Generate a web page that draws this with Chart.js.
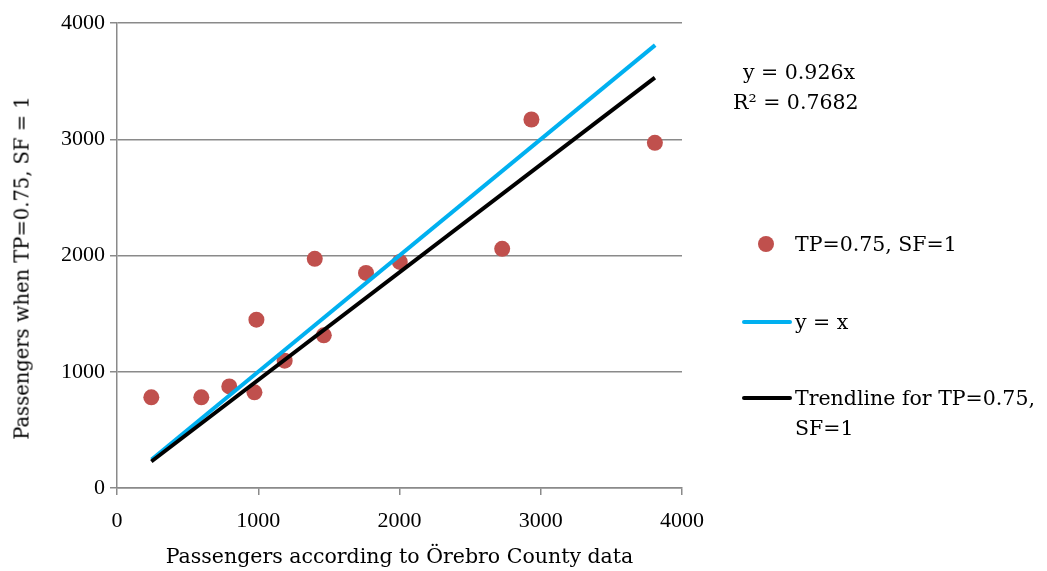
<!DOCTYPE html>
<html>
<head>
<meta charset="utf-8">
<script src="https://cdn.jsdelivr.net/npm/chart.js@4/dist/chart.umd.min.js"></script>
<style>
	body { margin: 0; background: #fff; }
	#wrap { position: relative; width: 1047px; height: 571px; font-family: "DejaVu Serif", serif; color: #000; }
	.txt { position: absolute; font-size: 20.5px; white-space: nowrap; line-height: 30px; }
	.mark { position: absolute; }
	#ytitle { position: absolute; left: 22px; top: 268px; font-size: 19.5px; white-space: nowrap;
		transform: translate(-50%, -50%) rotate(-90deg); }
</style>
</head>
<body>
<div id="wrap">
	<canvas id="chart" width="1047" height="571"></canvas>
	<div id="ytitle">Passengers when TP=0.75, SF = 1</div>

	<div class="txt" style="left:743px; top:57px;">y = 0.926x</div>
	<div class="txt" style="left:733px; top:87px;">R² = 0.7682</div>

	<div class="mark" style="left:758px; top:236px; width:16px; height:16px; border-radius:50%; background:#C0504D;"></div>
	<div class="txt" style="left:795px; top:229px;">TP=0.75, SF=1</div>

	<div class="mark" style="left:742px; top:320px; width:50px; height:4px; border-radius:2px; background:#00B0F0;"></div>
	<div class="txt" style="left:795px; top:307px;">y = x</div>

	<div class="mark" style="left:742px; top:396px; width:50px; height:4px; border-radius:2px; background:#000;"></div>
	<div class="txt" style="left:795px; top:383px;">Trendline for TP=0.75,</div>
	<div class="txt" style="left:795px; top:413px;">SF=1</div>
</div>
<script>
// Values
const countyData = [243, 597, 795, 973, 987, 1187, 1400, 1464, 1763, 2002, 2727, 2934, 3808];
const modelData = [780, 780, 874, 823, 1448, 1095, 1971, 1313, 1850, 1945, 2057, 3170, 2969];

const identityX = [245, 3810];
const identityY = [245, 3810];

const trendX = [243, 3808];
const trendY = [228, 3530];

const axisTicks = [0, 1000, 2000, 3000, 4000];

const gridGray = "#8a8a8a";
const tickFont = { family: "Liberation Serif", size: 22 };
const titleFont = { family: "DejaVu Serif", size: 20.5 };

function toPoints(xs, ys) {
	return xs.map((x, i) => ({ x: x, y: ys[i] }));
}

let ctx = document.getElementById("chart").getContext("2d");

let chart = new Chart(ctx, {
	type: "scatter",
	data: {
		datasets: [
			{
				label: "Trendline for TP=0.75, SF=1",
				data: toPoints(trendX, trendY),
				showLine: true,
				borderColor: "#000000",
				borderWidth: 4,
				pointRadius: 0,
				order: 0
			},
			{
				label: "y = x",
				data: toPoints(identityX, identityY),
				showLine: true,
				borderColor: "#00B0F0",
				borderWidth: 4,
				pointRadius: 0,
				order: 1
			},
			{
				label: "TP=0.75, SF=1",
				data: toPoints(countyData, modelData),
				backgroundColor: "#C0504D",
				borderColor: "#C0504D",
				pointRadius: 8,
				pointBorderWidth: 0,
				order: 2
			}
		]
	},
	options: {
		responsive: false,
		animation: false,
		layout: {
			padding: { top: 23, right: 365, left: 0, bottom: 0 }
		},
		scales: {
			x: {
				type: "linear",
				min: 0,
				max: 4000,
				afterBuildTicks: s => { s.ticks = axisTicks.map(v => ({ value: v })); },
				afterFit: s => { s.height = 83; },
				grid: {
					color: "rgba(0,0,0,0)",
					tickColor: gridGray,
					tickLength: 7,
					lineWidth: 1.5
				},
				border: { display: true, color: gridGray, width: 1.5 },
				ticks: { color: "#000", font: tickFont, padding: 13, maxRotation: 0, callback: v => String(v) },
				title: {
					display: true,
					text: "Passengers according to Örebro County data",
					color: "#000",
					font: titleFont,
					padding: { top: 4, bottom: 1 }
				}
			},
			y: {
				type: "linear",
				min: 0,
				max: 4000,
				afterBuildTicks: s => { s.ticks = axisTicks.map(v => ({ value: v })); },
				afterFit: s => { s.width = 117; },
				grid: {
					color: gridGray,
					tickColor: gridGray,
					tickLength: 7,
					lineWidth: 1.5
				},
				border: { display: true, color: gridGray, width: 1.5 },
				ticks: { color: "#000", font: tickFont, padding: 5, callback: v => String(v) },
				title: { display: false }
			}
		},
		plugins: {
			legend: { display: false },
			tooltip: { enabled: false }
		}
	}
});
</script>
</body>
</html>
